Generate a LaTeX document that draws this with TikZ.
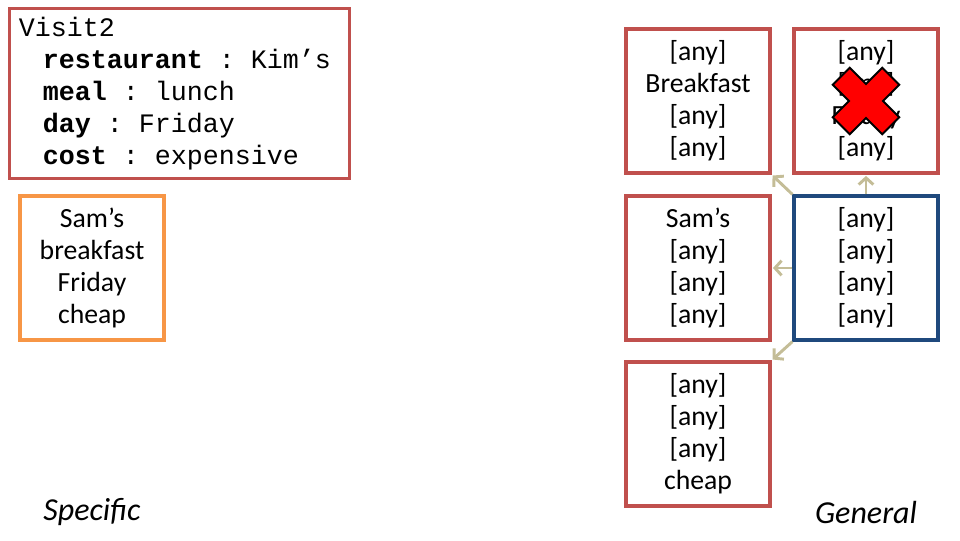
\documentclass[tikz,border=0pt]{standalone}
\usepackage{fontspec}
\setmainfont{Carlito}
\newfontfamily\codefont{Liberation Mono}
\usetikzlibrary{arrows.meta}
\definecolor{boxred}{HTML}{C0504D}
\definecolor{boxorange}{HTML}{F79646}
\definecolor{boxblue}{HTML}{1F497D}
\definecolor{arrowtan}{HTML}{C4BD97}
\newcommand{\anyval}{{[any]}}
\newcommand{\fieldsep}{\hspace{12pt}:\hspace{12pt}}
\begin{document}
\begin{tikzpicture}[x=0.75pt,y=-0.75pt,
    card/.style={draw=boxred,line width=2.4pt,minimum width=108pt,minimum height=108pt,
      inner sep=0pt,align=center,font=\fontsize{20.8}{24}\selectfont},
    gen/.style={-{Straight Barb[length=5pt,width=11pt]},draw=arrowtan,line width=2.2pt,shorten >=1pt},
    side/.style={font=\itshape\fontsize{24}{28}\selectfont}]
  \useasboundingbox (0,0) rectangle (960,540);
  % the visit and the instance
  \node [draw=boxred,line width=2.4pt,anchor=north west,text width=245pt,inner xsep=5pt,
    minimum height=127.5pt,align=left,font=\codefont\fontsize{20}{24}\selectfont] (visit) at (8,7)
    {\hspace*{2pt}Visit2\\
     \hspace*{20pt}\textbf{restaurant}\fieldsep Kim’s\\
     \hspace*{20pt}\textbf{meal}\fieldsep lunch\\
     \hspace*{20pt}\textbf{day}\fieldsep Friday\\
     \hspace*{20pt}\textbf{cost}\fieldsep expensive};
  \node [card,draw=boxorange] (sams) at (92,268) {Sam’s\\breakfast\\Friday\\cheap};
  % hypotheses
  \node [card] (meal) at (698,101) {\anyval\\Breakfast\\\anyval\\\anyval};
  \node [card] (day) at (866,101) {\anyval\\\anyval\\Friday\\\anyval};
  \node [card] (rest) at (698,268) {Sam’s\\\anyval\\\anyval\\\anyval};
  \node [card,draw=boxblue] (top) at (866,268) {\anyval\\\anyval\\\anyval\\\anyval};
  \node [card] (cost) at (698,434) {\anyval\\\anyval\\\anyval\\cheap};
  \draw [gen] (top.north west) -- (meal.south east);
  \draw [gen] (top.north) -- (day.south);
  \draw [gen] (top.west) -- (rest.east);
  \draw [gen] (top.south west) -- (cost.north east);
  % the cross
  \begin{scope}[shift={(866,101)},rotate=45]
    \filldraw [fill=red,draw=black,line width=1.5pt]
      (12,35) -- (12,12) -- (35,12) -- (35,-12) -- (12,-12) -- (12,-35) -- (-12,-35)
      -- (-12,-12) -- (-35,-12) -- (-35,12) -- (-12,12) -- (-12,35) -- cycle;
  \end{scope}
  \node [side] (spec) at (92,512) {Specific};
  \node [side] (gnrl) at (866,512) {General};
\end{tikzpicture}
\end{document}
